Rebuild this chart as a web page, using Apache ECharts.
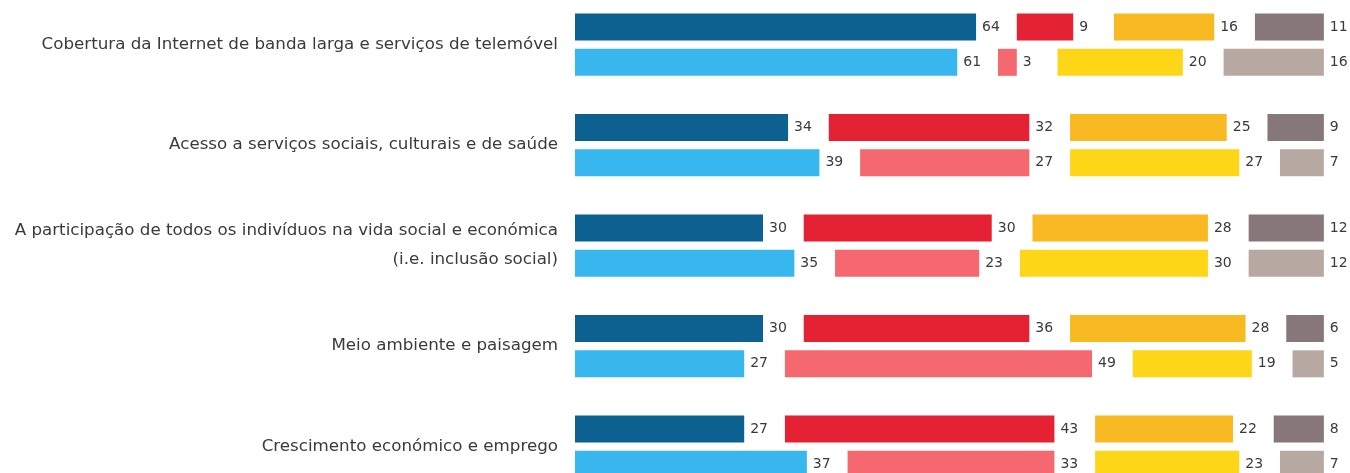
<!DOCTYPE html>
<html>
<head>
<meta charset="utf-8">
<script src="https://cdn.jsdelivr.net/npm/echarts@6/dist/echarts.min.js"></script>
<style>
html,body{margin:0;padding:0;background:#fff;}
#chart{width:1350px;height:473px;}
</style>
</head>
<body>
<div id="chart"></div>
<script>
const categories = [
  'Cobertura da Internet de banda larga e serviços de telemóvel',
  'Acesso a serviços sociais, culturais e de saúde',
  'A participação de todos os indivíduos na vida social e económica\n(i.e. inclusão social)',
  'Meio ambiente e paisagem',
  'Crescimento económico e emprego'
];
// dark row (first) and light row (second) for each category
const darkBlue   = [64, 34, 30, 30, 27];
const darkRed    = [9, 32, 30, 36, 43];
const darkYellow = [16, 25, 28, 28, 22];
const darkGray   = [11, 9, 12, 6, 8];
const lightBlue   = [61, 39, 35, 27, 37];
const lightRed    = [3, 27, 23, 49, 33];
const lightYellow = [20, 27, 30, 19, 23];
const lightGray   = [16, 7, 12, 5, 7];

const GAP = 6.5;
const FONT = '"DejaVu Sans", sans-serif';

function valueSeries(stack, data, color) {
  return {
    type: 'bar', stack: stack, data: data, barWidth: 27, barGap: '31%',
    itemStyle: { color: color },
    label: { show: true, position: 'right', distance: 6, formatter: '{c}',
             color: '#3a3a3a', fontSize: 14, fontFamily: FONT },
    silent: true
  };
}
function gapSeries(stack) {
  return {
    type: 'bar', stack: stack, data: categories.map(() => GAP), barWidth: 27, barGap: '31%',
    itemStyle: { color: 'rgba(0,0,0,0)' }, silent: true, label: { show: false }
  };
}

const series = [
  valueSeries('a', darkBlue, '#0c6190'), gapSeries('a'),
  valueSeries('a', darkRed, '#e52233'), gapSeries('a'),
  valueSeries('a', darkYellow, '#f9b922'), gapSeries('a'),
  valueSeries('a', darkGray, '#887778'),
  valueSeries('b', lightBlue, '#38b7ef'), gapSeries('b'),
  valueSeries('b', lightRed, '#f56870'), gapSeries('b'),
  valueSeries('b', lightYellow, '#fdd618'), gapSeries('b'),
  valueSeries('b', lightGray, '#b8a8a2')
];

const chart = echarts.init(document.getElementById('chart'));
chart.setOption({
  animation: false,
  backgroundColor: '#fff',
  grid: { left: 575, width: 752, top: -5.6, height: 502.5, containLabel: false, outerBoundsMode: 'none' },
  xAxis: { type: 'value', min: 0, max: 120, show: false },
  yAxis: {
    type: 'category', inverse: true, data: categories,
    axisLine: { show: false }, axisTick: { show: false }, splitLine: { show: false },
    axisLabel: { margin: 17, fontSize: 16.7, color: '#3a3a3a', fontFamily: FONT, lineHeight: 29,
                 align: 'right', padding: [2, 0, 0, 0] }
  },
  series: series
});
</script>
</body>
</html>
